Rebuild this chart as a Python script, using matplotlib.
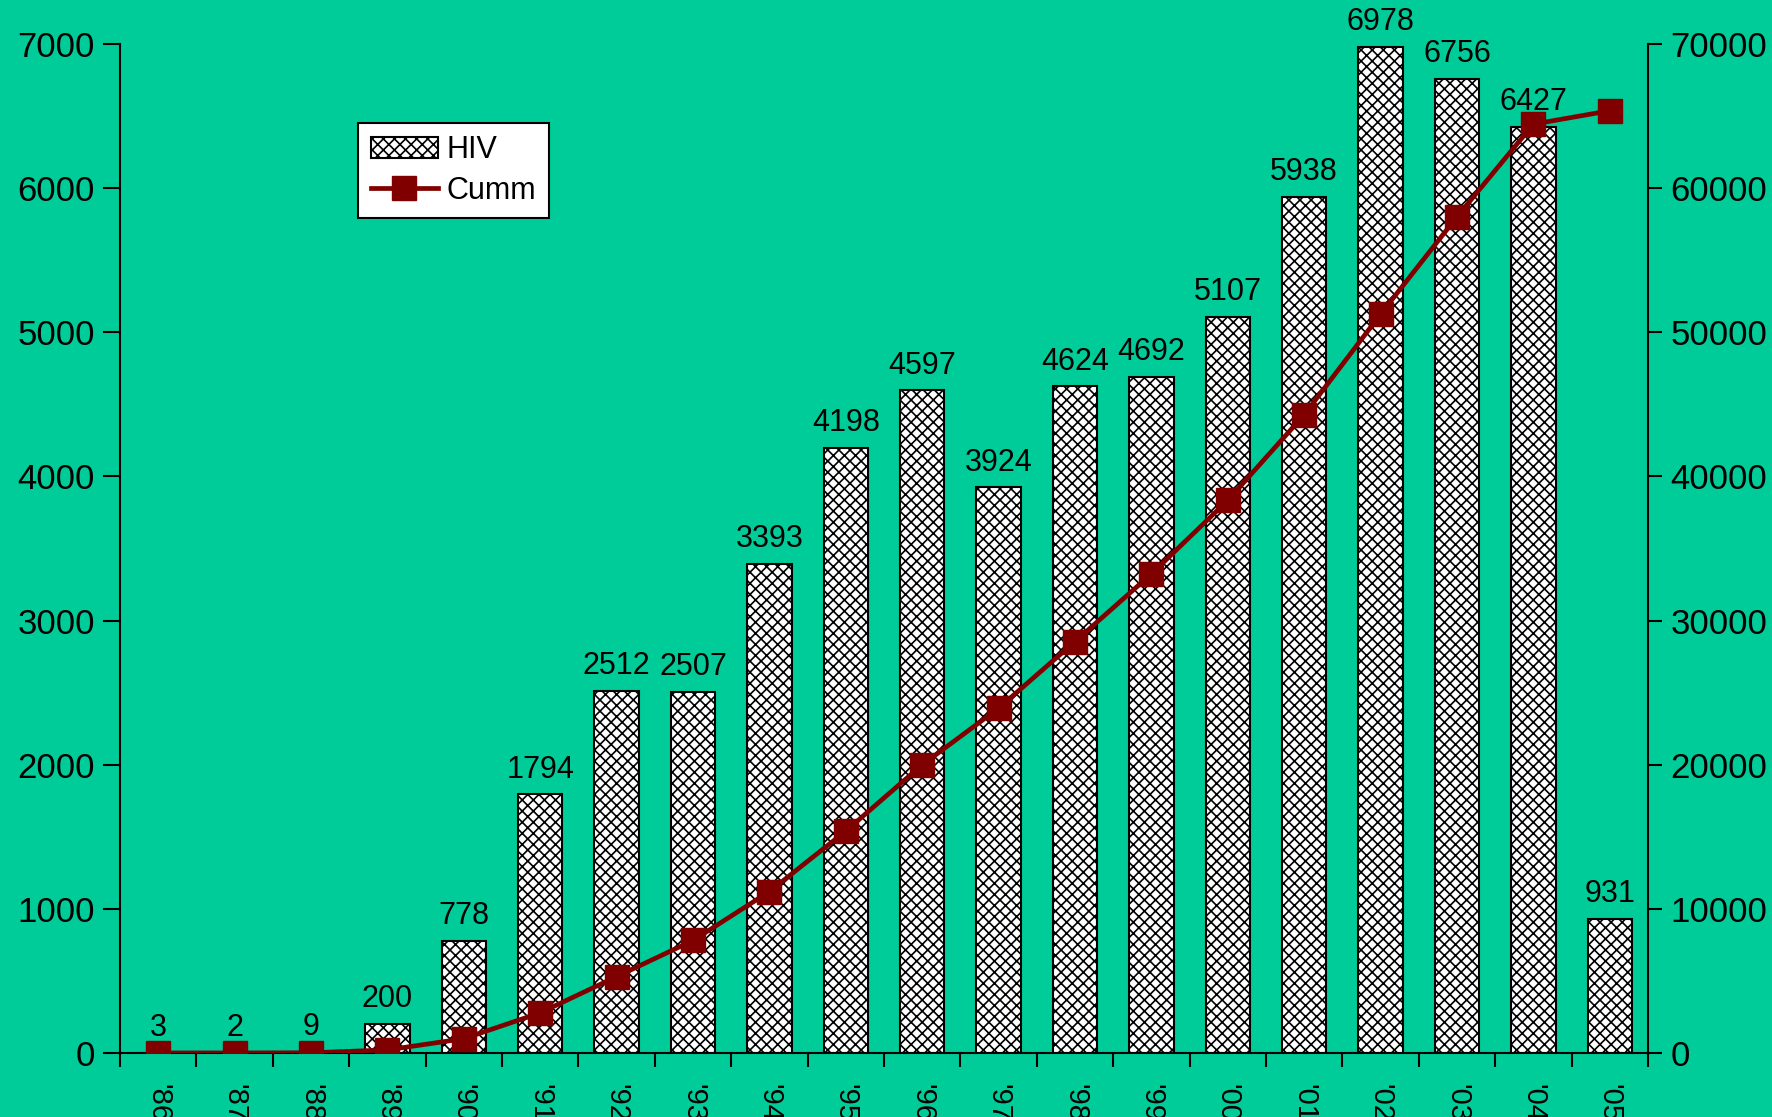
import matplotlib.pyplot as plt

plt.rcParams["font.family"] = ["Liberation Sans", "DejaVu Sans"]
plt.rcParams["hatch.linewidth"] = 1.2

years = ["'86", "'87", "'88", "'89", "'90", "'91", "'92", "'93", "'94", "'95",
         "'96", "'97", "'98", "'99", "'00", "'01", "'02", "'03", "'04", "'05"]
hiv = [3, 2, 9, 200, 778, 1794, 2512, 2507, 3393, 4198,
       4597, 3924, 4624, 4692, 5107, 5938, 6978, 6756, 6427, 931]
cumm = [3, 5, 14, 214, 992, 2786, 5298, 7805, 11198, 15396,
        19993, 23917, 28541, 33233, 38340, 44278, 51256, 58012, 64439, 65370]

bg = "#00CC99"
fig = plt.figure(figsize=(17.72, 11.17), dpi=100, facecolor=bg)
ax = fig.add_axes([0.0677, 0.0573, 0.8623, 0.9033])
ax.set_facecolor(bg)
x = list(range(len(years)))

ax.bar(x, hiv, width=0.58, color="white", edgecolor="black", linewidth=1.5,
       hatch="xxx", label="HIV", zorder=2)
for xi, v in zip(x, hiv):
    ax.annotate(str(v), (xi, v), xytext=(0, 7), textcoords="offset points",
                ha="center", va="bottom", fontsize=22)

ax.set_xlim(-0.5, len(years) - 0.5)
ax.set_ylim(0, 7000)
ax.set_yticks(range(0, 7001, 1000))
ax.set_xticks([i - 0.5 for i in range(len(years) + 1)])
ax.set_xticklabels([])
ax.set_xticks(x, minor=True)
ax.set_xticklabels(years, minor=True, rotation=-90, fontsize=21)
ax.tick_params(axis="x", which="major", length=10, width=1.5, direction="out")
ax.tick_params(axis="x", which="minor", length=0, pad=22)
ax.tick_params(axis="y", length=12, width=1.5, labelsize=25, pad=6)
ax.spines["top"].set_visible(False)
ax.spines["right"].set_visible(False)
for s in ("left", "bottom"):
    ax.spines[s].set_linewidth(1.5)

ax2 = ax.twinx()
ax2.plot(x, cumm, color="#800000", linewidth=3.4, marker="s", markersize=17,
         label="Cumm", zorder=3)
ax2.set_ylim(0, 70000)
ax2.set_yticks(range(0, 70001, 10000))
ax2.tick_params(axis="y", length=10, width=1.5, labelsize=25, pad=6)
ax2.spines["top"].set_visible(False)
ax2.spines["left"].set_visible(False)
ax2.spines["bottom"].set_visible(False)
ax2.spines["right"].set_linewidth(1.5)

h1, l1 = ax.get_legend_handles_labels()
h2, l2 = ax2.get_legend_handles_labels()
leg = ax2.legend(h1 + h2, l1 + l2, loc="upper left", bbox_to_anchor=(0.156, 0.922),
                 fontsize=22, frameon=True, fancybox=False, framealpha=1,
                 edgecolor="black", handlelength=2.2, borderpad=0.4,
                 labelspacing=0.35, handletextpad=0.3, borderaxespad=0)
leg.get_frame().set_linewidth(1.5)

fig.savefig("out.png", dpi=100, facecolor=bg)
